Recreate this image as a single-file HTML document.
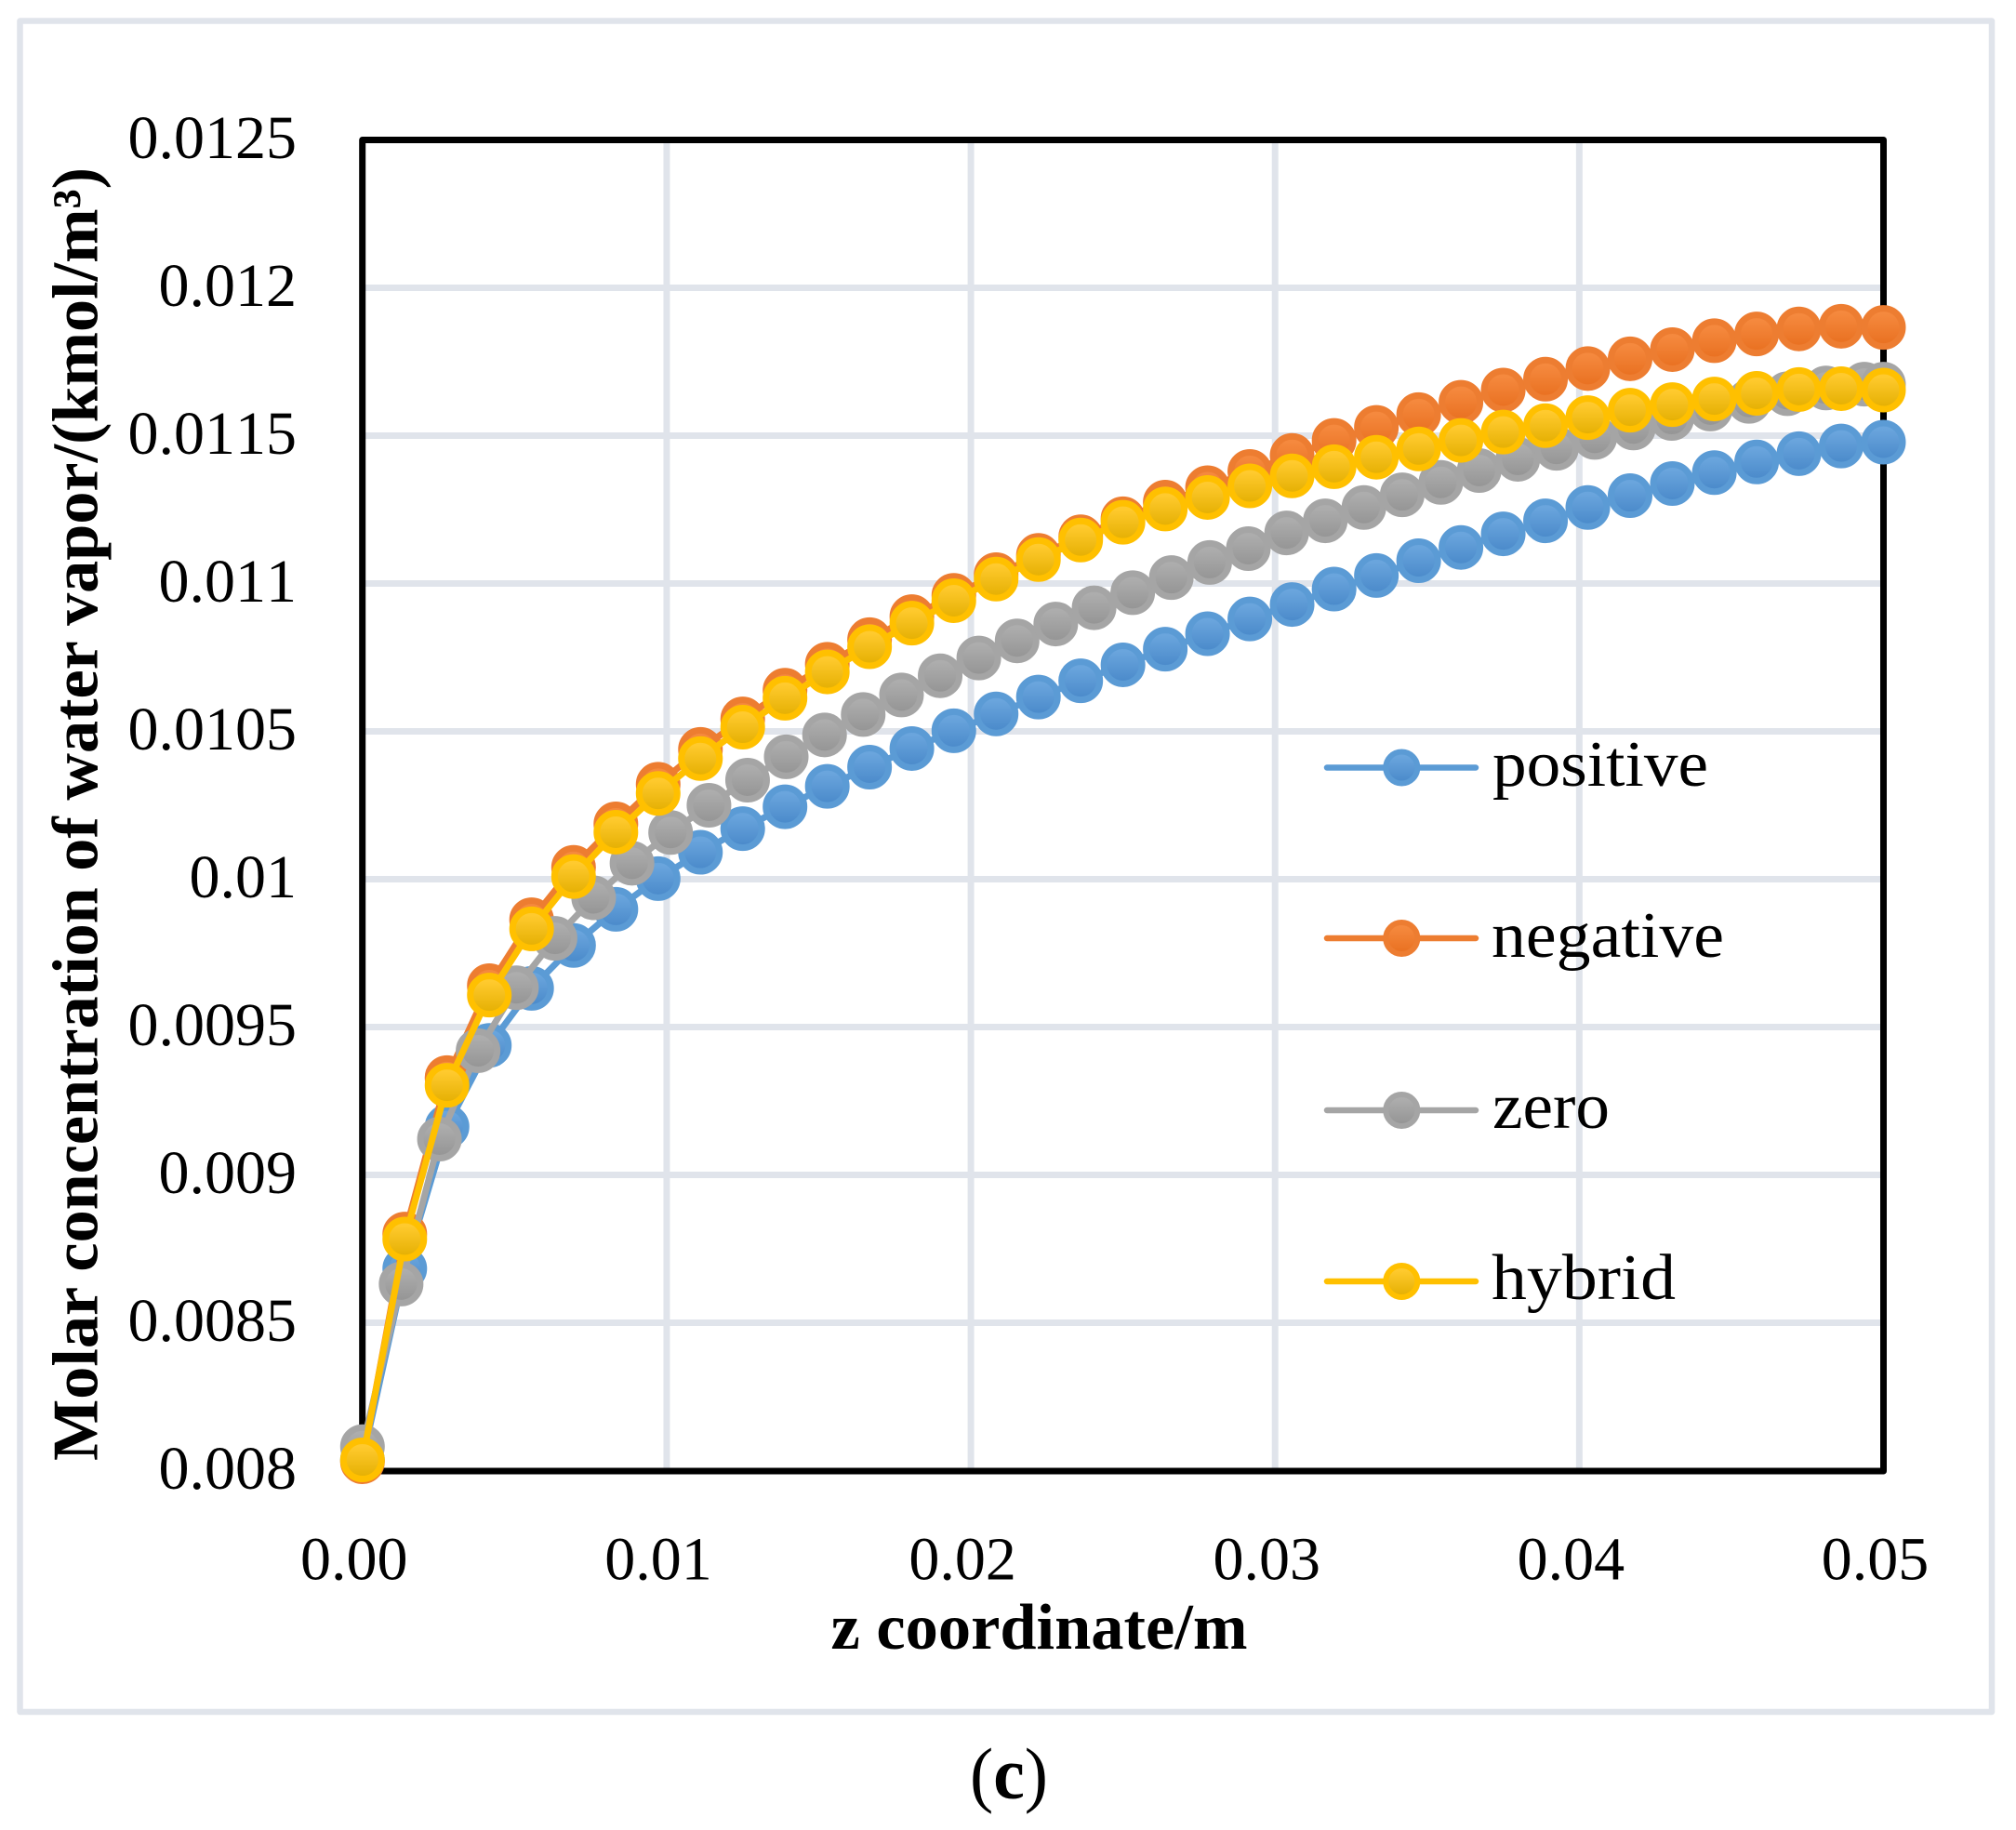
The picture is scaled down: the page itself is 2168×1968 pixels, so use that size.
<!DOCTYPE html>
<html lang="en">
<head>
<meta charset="utf-8">
<title>Molar concentration of water vapor vs z coordinate</title>
<style>
html,body{margin:0;padding:0;background:#fff;}
svg{display:block;}
text{font-family:"Liberation Serif",serif;fill:#000;}
.tick{font-size:66px;font-kerning:none;}
.title{font-size:70px;font-weight:bold;}
.leg{font-size:70px;}
</style>
</head>
<body>
<svg id="chart" xmlns="http://www.w3.org/2000/svg" width="2168" height="1968" viewBox="0 0 2168 1968">
  <defs>
    <linearGradient id="g-positive" x1="0" y1="0" x2="0" y2="1"><stop offset="0.15" stop-color="#6aa5dd"/><stop offset="1" stop-color="#4888c9"/></linearGradient>
    <linearGradient id="g-negative" x1="0" y1="0" x2="0" y2="1"><stop offset="0.15" stop-color="#f5893e"/><stop offset="1" stop-color="#e86f1f"/></linearGradient>
    <linearGradient id="g-zero" x1="0" y1="0" x2="0" y2="1"><stop offset="0.15" stop-color="#adadad"/><stop offset="1" stop-color="#939393"/></linearGradient>
    <linearGradient id="g-hybrid" x1="0" y1="0" x2="0" y2="1"><stop offset="0.15" stop-color="#ffca2e"/><stop offset="1" stop-color="#e3ae00"/></linearGradient>
  </defs>
  <rect x="21.5" y="22.5" width="2120.5" height="1818.5" fill="#fff" stroke="#e0e4eb" stroke-width="6.5" stroke-linejoin="round"/>
  <g id="grid"></g>
  <rect x="389.7" y="150.5" width="1635.8" height="1431.5" fill="none" stroke="#000" stroke-width="7" stroke-linejoin="round"/>
  <g id="y-ticks"></g>
  <g id="x-ticks"></g>
  <g id="series"></g>
  <text class="title" transform="translate(104.5,1571) rotate(-90)" textLength="1391" lengthAdjust="spacingAndGlyphs">Molar concentration of water vapor/(kmol/m³)</text>
  <text class="title" x="893.5" y="1773" textLength="448" lengthAdjust="spacingAndGlyphs">z coordinate/m</text>
  <g>
    <g>
      <line x1="1427" y1="825.5" x2="1587" y2="825.5" stroke="#5b9bd5" stroke-width="6.5" stroke-linecap="round"/>
      <circle cx="1507.3" cy="825.5" r="17" fill="url(#g-positive)" stroke="#5b9bd5" stroke-width="6"/>
      <text class="leg" x="1605" y="845" textLength="232" lengthAdjust="spacingAndGlyphs">positive</text>
    </g>
    <g>
      <line x1="1427" y1="1009" x2="1587" y2="1009" stroke="#ed7d31" stroke-width="6.5" stroke-linecap="round"/>
      <circle cx="1507.3" cy="1009" r="17" fill="url(#g-negative)" stroke="#ed7d31" stroke-width="6"/>
      <text class="leg" x="1604" y="1029" textLength="250" lengthAdjust="spacingAndGlyphs">negative</text>
    </g>
    <g>
      <line x1="1427" y1="1194" x2="1587" y2="1194" stroke="#a5a5a5" stroke-width="6.5" stroke-linecap="round"/>
      <circle cx="1507.3" cy="1194" r="17" fill="url(#g-zero)" stroke="#a5a5a5" stroke-width="6"/>
      <text class="leg" x="1605" y="1213" textLength="126" lengthAdjust="spacingAndGlyphs">zero</text>
    </g>
    <g>
      <line x1="1427" y1="1378" x2="1587" y2="1378" stroke="#ffc000" stroke-width="6.5" stroke-linecap="round"/>
      <circle cx="1507.3" cy="1378" r="17" fill="url(#g-hybrid)" stroke="#ffc000" stroke-width="6"/>
      <text class="leg" x="1604" y="1397" textLength="198" lengthAdjust="spacingAndGlyphs">hybrid</text>
    </g>
  </g>
  <text x="1043" y="1934" font-size="78" textLength="84" lengthAdjust="spacingAndGlyphs">(<tspan font-weight="bold">c</tspan>)</text>
</svg>
<script>
const xTickValues = [0, 0.01, 0.02, 0.03, 0.04, 0.05];
const xTickLabels = ["0.00", "0.01", "0.02", "0.03", "0.04", "0.05"];
const yTickValues = [0.008, 0.0085, 0.009, 0.0095, 0.01, 0.0105, 0.011, 0.0115, 0.012, 0.0125];
const yTickLabels = ["0.008", "0.0085", "0.009", "0.0095", "0.01", "0.0105", "0.011", "0.0115", "0.012", "0.0125"];

const zCommon = [0, 0.00139, 0.00278, 0.00417, 0.00556, 0.00694, 0.00833, 0.00972, 0.01111, 0.0125, 0.01389, 0.01528, 0.01667, 0.01806, 0.01944, 0.02083, 0.02222, 0.02361, 0.025, 0.02639, 0.02778, 0.02917, 0.03056, 0.03194, 0.03333, 0.03472, 0.03611, 0.0375, 0.03889, 0.04028, 0.04167, 0.04306, 0.04444, 0.04583, 0.04722, 0.04861, 0.05];
const zZero = [0, 0.00127, 0.00253, 0.0038, 0.00506, 0.00633, 0.0076, 0.00886, 0.01013, 0.01139, 0.01266, 0.01393, 0.01519, 0.01646, 0.01772, 0.01899, 0.02026, 0.02152, 0.02279, 0.02405, 0.02532, 0.02659, 0.02785, 0.02912, 0.03038, 0.03165, 0.03292, 0.03418, 0.03545, 0.03671, 0.03798, 0.03925, 0.04051, 0.04178, 0.04304, 0.04431, 0.04558, 0.04684, 0.04811, 0.04937, 0.05];

const positiveValues = [0.008036, 0.008683, 0.009163, 0.009438, 0.009631, 0.009776, 0.009898, 0.010002, 0.010091, 0.010171, 0.010245, 0.010314, 0.010379, 0.010442, 0.010502, 0.010559, 0.010616, 0.010671, 0.010725, 0.010778, 0.01083, 0.01088, 0.010929, 0.010981, 0.011027, 0.011077, 0.011122, 0.011168, 0.011212, 0.011257, 0.011297, 0.011338, 0.011375, 0.011411, 0.011439, 0.011465, 0.011478];
const negativeValues = [0.00803, 0.0088, 0.009329, 0.00964, 0.009863, 0.01004, 0.010187, 0.010321, 0.010439, 0.010542, 0.010639, 0.010727, 0.01081, 0.010888, 0.01096, 0.01103, 0.011095, 0.011158, 0.011219, 0.011275, 0.011324, 0.011379, 0.011433, 0.011484, 0.011528, 0.011571, 0.011613, 0.011654, 0.011691, 0.011727, 0.01176, 0.011791, 0.011821, 0.011844, 0.011861, 0.01187, 0.011866];
const zeroValues = [0.008081, 0.008631, 0.009121, 0.00942, 0.009633, 0.0098, 0.009937, 0.010054, 0.010158, 0.01025, 0.010335, 0.010414, 0.010488, 0.010557, 0.010623, 0.010688, 0.010748, 0.010806, 0.010863, 0.010918, 0.010969, 0.01102, 0.011071, 0.011118, 0.011171, 0.011212, 0.011257, 0.0113, 0.011342, 0.011382, 0.01142, 0.011457, 0.011494, 0.011526, 0.011558, 0.01159, 0.011616, 0.011642, 0.011661, 0.011674, 0.011674];
const hybridValues = [0.008036, 0.008783, 0.009303, 0.009608, 0.009832, 0.010009, 0.010159, 0.01029, 0.010408, 0.010514, 0.010612, 0.010701, 0.010786, 0.010866, 0.010942, 0.011015, 0.011081, 0.011147, 0.011207, 0.011252, 0.011291, 0.01133, 0.011364, 0.011395, 0.011427, 0.011455, 0.011484, 0.011512, 0.011534, 0.011561, 0.011586, 0.011605, 0.011624, 0.011643, 0.011656, 0.011659, 0.011654];

const SVG_NS = "http://www.w3.org/2000/svg";
const PLOT = { left: 389.8, right: 2025.5, top: 150.5, bottom: 1581.5 };
function xScale(z) { return PLOT.left + (z - 0) / (0.05 - 0) * (PLOT.right - PLOT.left); }
function yScale(v) { return PLOT.bottom - (v - 0.008) / (0.0125 - 0.008) * (PLOT.bottom - PLOT.top); }
function make(tag, attrs, parent) {
  const el = document.createElementNS(SVG_NS, tag);
  for (const k in attrs) el.setAttribute(k, attrs[k]);
  parent.appendChild(el);
  return el;
}

const gridG = document.getElementById("grid");
yTickValues.forEach(function (v) {
  if (v === 0.008 || v === 0.0125) return;
  const l = make("line", { x1: PLOT.left, x2: PLOT.right, y1: yScale(v), y2: yScale(v), stroke: "#e0e4eb", "stroke-width": 7 }, gridG);
  
  
});
xTickValues.forEach(function (z) {
  if (z === 0 || z === 0.05) return;
  const l = make("line", { x1: xScale(z), x2: xScale(z), y1: PLOT.top, y2: PLOT.bottom, stroke: "#e0e4eb", "stroke-width": 7 }, gridG);
  
  
});

const yTicksG = document.getElementById("y-ticks");
yTickValues.forEach(function (v, i) {
  const t = make("text", { class: "tick", x: 319, y: yScale(v) + 19.5, "text-anchor": "end" }, yTicksG);
  t.textContent = yTickLabels[i];
  
  
});
const xTicksG = document.getElementById("x-ticks");
xTickValues.forEach(function (z, i) {
  const t = make("text", { class: "tick", x: xScale(z) - 9, y: 1698.5, "text-anchor": "middle" }, xTicksG);
  t.textContent = xTickLabels[i];
  
  
});

const seriesG = document.getElementById("series");
function drawSeries(name, color, zs, vals) {
  const g = make("g", {}, seriesG);
  
  
  const pts = zs.map(function (z, i) { return xScale(z).toFixed(2) + "," + yScale(vals[i]).toFixed(2); }).join(" ");
  const line = make("polyline", { points: pts, fill: "none", stroke: color, "stroke-width": 7, "stroke-linejoin": "round", "stroke-linecap": "round" }, g);
  
  
  zs.forEach(function (z, i) {
    const c = make("circle", { cx: xScale(z), cy: yScale(vals[i]), r: 20.5, fill: "url(#g-" + name + ")", stroke: color, "stroke-width": 7 }, g);
    
    
  });
}
drawSeries("positive", "#5b9bd5", zCommon, positiveValues);
drawSeries("negative", "#ed7d31", zCommon, negativeValues);
drawSeries("zero", "#a5a5a5", zZero, zeroValues);
drawSeries("hybrid", "#ffc000", zCommon, hybridValues);
</script>
</body>
</html>
